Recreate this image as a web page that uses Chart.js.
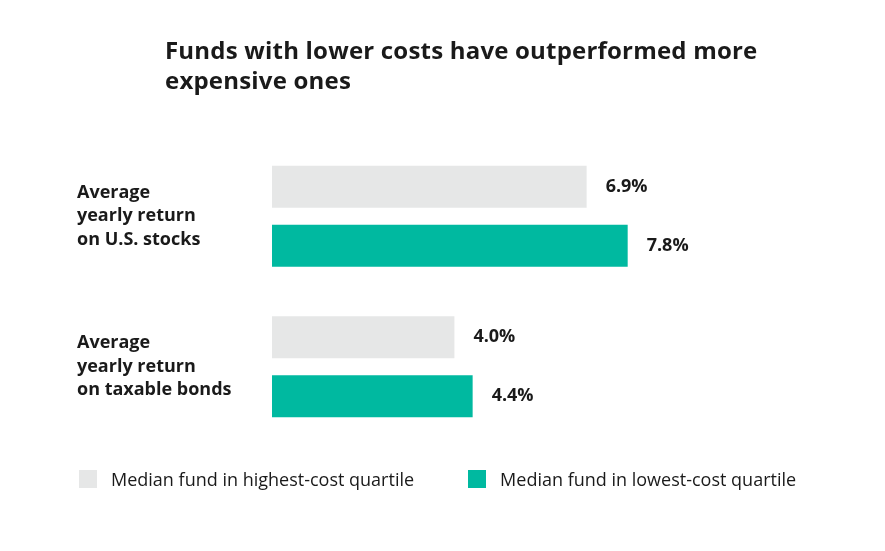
<!DOCTYPE html>
<html lang="en">

<head>
    <script src="https://cdn.jsdelivr.net/npm/chart.js@4.4.1/dist/chart.umd.min.js"></script>

    <style>
        body {
            margin: 0;
            background: #ffffff;
            font-family: "Open Sans", Lato, sans-serif;
            color: #1a1a1a;
        }

        .wrap {
            position: relative;
            width: 885px;
            height: 551px;
        }

        .title {
            position: absolute;
            left: 165px;
            top: 35px;
            margin: 0;
            font-size: 24px;
            line-height: 30px;
            font-weight: 700;
            letter-spacing: 0.2px;
        }

        .legend {
            position: absolute;
            left: 79px;
            top: 467px;
            display: flex;
            font-size: 18px;
        }

        .legendItem {
            display: flex;
            align-items: center;
        }

        .legendBox {
            width: 18px;
            height: 18px;
            margin-right: 14px;
        }
    </style>
</head>

<body>
    <div class="wrap">
        <canvas id="costChart" width="885" height="551"></canvas>

        <h2 class="title">Funds with lower costs have outperformed more<br>expensive ones</h2>

        <div class="legend" id="legendCont"></div>
    </div>

    <script>
        // chart data
        const categories = [
            ["Average", "yearly return", "on U.S. stocks"],
            ["Average", "yearly return", "on taxable bonds"]
        ];
        const seriesNames = ["Median fund in highest-cost quartile", "Median fund in lowest-cost quartile"];
        const highCost = [6.9, 4.0];
        const lowCost = [7.8, 4.4];
        const colors = ["#e6e7e7", "#00b9a0"];

        const fontFam = "'Open Sans', Lato, sans-serif";

        // html legend
        const legendCont = document.getElementById("legendCont");
        seriesNames.forEach((name, i) => {
            const item = document.createElement("div");
            item.className = "legendItem";
            item.style.marginRight = i === 0 ? "54px" : "0";
            item.innerHTML = `<span class="legendBox" style="background:${colors[i]}"></span><span>${name}</span>`;
            legendCont.appendChild(item);
        });

        // value labels at the end of every bar
        const valueLabels = {
            id: "valueLabels",
            afterDatasetsDraw(chart) {
                const ctx = chart.ctx;
                ctx.save();
                ctx.font = "700 18px " + fontFam;
                ctx.fillStyle = "#1a1a1a";
                ctx.textBaseline = "middle";
                chart.data.datasets.forEach((ds, di) => {
                    chart.getDatasetMeta(di).data.forEach((bar, i) => {
                        ctx.fillText(ds.data[i].toFixed(1) + "%", bar.x + 19, bar.y);
                    });
                });
                ctx.restore();
            }
        };

        new Chart(document.getElementById("costChart"), {
            type: "bar",
            data: {
                labels: categories,
                datasets: [
                    {
                        label: seriesNames[0],
                        data: highCost,
                        backgroundColor: colors[0],
                        categoryPercentage: 0.784,
                        barPercentage: 0.712
                    },
                    {
                        label: seriesNames[1],
                        data: lowCost,
                        backgroundColor: colors[1],
                        categoryPercentage: 0.784,
                        barPercentage: 0.712
                    }
                ]
            },
            options: {
                indexAxis: "y",
                responsive: false,
                animation: false,
                layout: {
                    padding: { left: 77, right: 157, top: 141, bottom: 109 }
                },
                plugins: {
                    legend: { display: false },
                    tooltip: { enabled: false }
                },
                scales: {
                    x: {
                        display: false,
                        min: 0,
                        max: 10
                    },
                    y: {
                        grid: { display: false },
                        border: { display: false },
                        afterFit: scale => { scale.width = 195; },
                        ticks: {
                            crossAlign: "far",
                            padding: 0,
                            labelOffset: 0,
                            color: "#1a1a1a",
                            font: { family: fontFam, size: 18, weight: "700", lineHeight: 1.3 }
                        }
                    }
                }
            },
            plugins: [valueLabels]
        });
    </script>
</body>

</html>
